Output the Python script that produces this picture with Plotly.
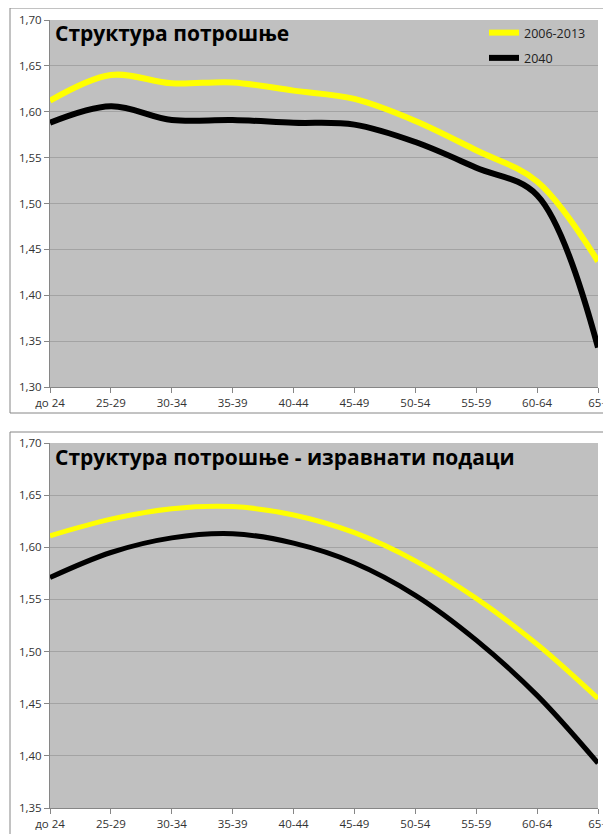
import plotly.graph_objects as go

# ---------------- data ----------------
categories = ["до 24", "25-29", "30-34", "35-39", "40-44",
              "45-49", "50-54", "55-59", "60-64", "65+"]
series_names = ["2006-2013", "2040"]

# top chart: "Структура потрошње"
top_2006_2013 = [1.612, 1.640, 1.631, 1.632, 1.623, 1.614, 1.590, 1.558, 1.524, 1.437]
top_2040 = [1.588, 1.606, 1.591, 1.591, 1.588, 1.586, 1.567, 1.539, 1.509, 1.343]

# bottom chart: "Структура потрошње - изравнати подаци"
smooth_2006_2013 = [1.611, 1.627, 1.637, 1.639, 1.631, 1.614, 1.587, 1.551, 1.507, 1.455]
smooth_2040 = [1.571, 1.595, 1.609, 1.613, 1.604, 1.585, 1.554, 1.511, 1.458, 1.393]

top_title = "Структура потрошње"
bottom_title = "Структура потрошње - изравнати подаци"
top_yrange = [1.30, 1.70]
bottom_yrange = [1.35, 1.70]
y_step = 0.05

# ---------------- styling ----------------
OFF = 8                      # default page body margin
W, H = 611 - OFF, 834 - OFF
colors = ["#FFFF00", "#000000"]
plot_bg = "#C0C0C0"
grid_c = "#A3A3A3"
axis_c = "#868686"
tick_font = dict(family="Open Sans, DejaVu Sans, sans-serif", size=11.5, color="#333333")


def px_x(p):
    return (p - OFF) / W


def px_y(p):
    return 1 - (p - OFF) / H


fig = go.Figure()

for name, vals, col in zip(series_names, [top_2006_2013, top_2040], colors):
    fig.add_trace(go.Scatter(
        x=categories, y=vals, name=name, mode="lines",
        line=dict(color=col, width=6, shape="spline", smoothing=1.0),
        xaxis="x", yaxis="y", legendgroup=name, showlegend=True,
        hoverinfo="skip"))

for name, vals, col in zip(series_names, [smooth_2006_2013, smooth_2040], colors):
    fig.add_trace(go.Scatter(
        x=categories, y=vals, name=name, mode="lines",
        line=dict(color=col, width=5, shape="spline", smoothing=1.0),
        xaxis="x2", yaxis="y2", legendgroup=name, showlegend=False,
        hoverinfo="skip"))

xdom = [px_x(50), px_x(598)]
xaxis_common = dict(
    type="category", range=[0, len(categories) - 1], domain=xdom,
    showline=True, linecolor=axis_c, linewidth=1,
    ticks="outside", ticklen=5, tickcolor=axis_c, tickwidth=1,
    showgrid=False, zeroline=False, tickfont=tick_font,
    automargin=False, fixedrange=True)
yaxis_common = dict(
    dtick=y_step, tickformat=".2f",
    showline=True, linecolor=axis_c, linewidth=1,
    ticks="outside", ticklen=5, tickcolor=axis_c, tickwidth=1,
    showgrid=True, gridcolor=grid_c, gridwidth=1, zeroline=False,
    tickfont=tick_font, automargin=False, fixedrange=True)

fig.update_layout(
    width=W, height=H,
    margin=dict(l=0, r=0, t=0, b=0, pad=0, autoexpand=False),
    paper_bgcolor="white",
    plot_bgcolor=plot_bg,
    separators=", ",
    xaxis=dict(**xaxis_common, anchor="y"),
    yaxis=dict(**yaxis_common, range=top_yrange, anchor="x",
               domain=[px_y(387), px_y(20)], tick0=top_yrange[0]),
    xaxis2=dict(**xaxis_common, anchor="y2"),
    yaxis2=dict(**yaxis_common, range=bottom_yrange, anchor="x2",
                domain=[px_y(808), px_y(443)], tick0=bottom_yrange[0]),
    showlegend=True,
    legend=dict(
        x=px_x(484), y=px_y(18), xanchor="left", yanchor="top",
        bgcolor="rgba(0,0,0,0)", borderwidth=0,
        traceorder="grouped", tracegroupgap=6,
        font=dict(family="Open Sans, DejaVu Sans, sans-serif", size=12.5, color="#222222"),
        itemclick=False, itemdoubleclick=False),
    annotations=[
        dict(text="<b>" + top_title + "</b>", xref="paper", yref="paper",
             x=px_x(53), y=px_y(33), xanchor="left", yanchor="middle",
             showarrow=False,
             font=dict(family="Open Sans, DejaVu Sans, sans-serif", size=21, color="#000000")),
        dict(text="<b>" + bottom_title + "</b>", xref="paper", yref="paper",
             x=px_x(53), y=px_y(457), xanchor="left", yanchor="middle",
             showarrow=False,
             font=dict(family="Open Sans, DejaVu Sans, sans-serif", size=21, color="#000000")),
    ],
    shapes=[
        dict(type="rect", xref="paper", yref="paper",
             x0=px_x(10), x1=1.05, y0=px_y(413), y1=px_y(8),
             line=dict(color=axis_c, width=1), fillcolor="rgba(0,0,0,0)", layer="below"),
        dict(type="rect", xref="paper", yref="paper",
             x0=px_x(10), x1=1.05, y0=-0.05, y1=px_y(432),
             line=dict(color=axis_c, width=1), fillcolor="rgba(0,0,0,0)", layer="below"),
    ],
)

fig.write_html("out.html")
